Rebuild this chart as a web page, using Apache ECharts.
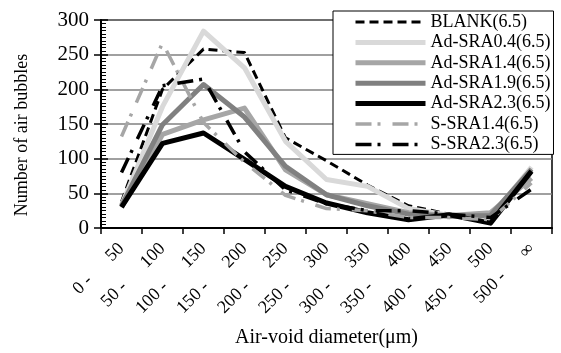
<!DOCTYPE html>
<html>
<head>
<meta charset="utf-8">
<script src="https://cdn.jsdelivr.net/npm/echarts@6/dist/echarts.min.js"></script>
<style>
  html, body { margin: 0; padding: 0; background: #fff; }
  #chart { width: 561px; height: 353px; }
</style>
</head>
<body>
<div id="chart"></div>
<script>
// Air-void size classes (µm)
const categories = ['0 -      50', '50 -      100', '100 -      150', '150 -      200', '200 -      250',
                    '250 -      300', '300 -      350', '350 -      400', '400 -      450',
                    '450 -      500', '500 -      ∞'];

// Number of air bubbles per size class
const blank     = [38, 200, 258, 253, 130, 97, 62, 32, 20, 15, 80];
const adSra04   = [33, 175, 284, 231, 125, 70, 60, 28, 18, 15, 88];
const adSra14   = [30, 135, 156, 173, 84, 48, 35, 22, 18, 22, 72];
const adSra19   = [32, 149, 207, 160, 89, 48, 32, 20, 17, 18, 85];
const adSra23   = [30, 122, 137, 99, 60, 36, 22, 12, 19, 7, 82];
const sSra14    = [132, 267, 152, 95, 47, 28, 25, 15, 15, 12, 65];
const sSra23    = [80, 205, 215, 110, 55, 35, 25, 25, 20, 15, 56];

const yTicks = [0, 50, 100, 150, 200, 250, 300];

const FONT = "'Liberation Serif', 'Times New Roman', serif";
const dashDot = [16, 6, 3, 12];

// series name, values, colour, width, dash
const seriesDefs = [
  ['BLANK(6.5)', blank, '#000000', 3, [9, 5]],
  ['Ad-SRA0.4(6.5)', adSra04, '#d9d9d9', 5, 'solid'],
  ['Ad-SRA1.4(6.5)', adSra14, '#a6a6a6', 5, 'solid'],
  ['Ad-SRA1.9(6.5)', adSra19, '#808080', 5, 'solid'],
  ['Ad-SRA2.3(6.5)', adSra23, '#000000', 5, 'solid'],
  ['S-SRA1.4(6.5)', sSra14, '#a6a6a6', 3.5, dashDot],
  ['S-SRA2.3(6.5)', sSra23, '#000000', 3.5, dashDot]
];

const series = seriesDefs.map(([name, data, color, width, type]) => ({
  name, type: 'line', data,
  symbol: 'none',
  lineStyle: { color, width, type, cap: 'butt', join: 'round' },
  itemStyle: { color },
  emphasis: { disabled: true }
}));

const legendData = seriesDefs.map(([name, , color, width, type]) => ({
  name,
  itemStyle: { opacity: 0 },
  lineStyle: { color, width, type, cap: 'butt' }
}));

const chart = echarts.init(document.getElementById('chart'), null, { renderer: 'canvas' });
chart.setOption({
  animation: false,
  backgroundColor: '#fff',
  textStyle: { fontFamily: FONT },
  grid: {
    left: 101, right: 9, top: 20, bottom: 125,
    show: true, borderColor: '#000', borderWidth: 1.5, backgroundColor: 'transparent'
  },
  legend: {
    orient: 'vertical',
    left: 333, top: 11,
    padding: [2, 3, 1, 20],
    itemWidth: 70, itemHeight: 14, itemGap: 2.4,
    backgroundColor: '#fff',
    borderColor: '#000', borderWidth: 1,
    textStyle: { fontFamily: FONT, fontSize: 18, color: '#000' },
    data: legendData
  },
  xAxis: {
    type: 'category',
    data: categories,
    boundaryGap: true,
    name: 'Air-void diameter(μm)',
    nameLocation: 'middle',
    nameGap: 100,
    nameTextStyle: { fontFamily: FONT, fontSize: 20, color: '#000' },
    axisLine: { lineStyle: { color: '#000', width: 2 } },
    axisTick: { show: true, inside: false, length: 6, lineStyle: { color: '#000', width: 1.5 } },
    axisLabel: { rotate: 45, margin: 18, fontFamily: FONT, fontSize: 18, color: '#000', interval: 0 },
    splitLine: { show: false }
  },
  yAxis: [{
    type: 'value',
    min: yTicks[0], max: yTicks[yTicks.length - 1], interval: 50,
    name: 'Number of air bubbles',
    nameLocation: 'middle',
    nameGap: 70,
    nameRotate: 90,
    nameTextStyle: { fontFamily: FONT, fontSize: 18, color: '#000', padding: [0, 22, 0, 0] },
    axisLine: { show: true, lineStyle: { color: '#000', width: 2 } },
    axisTick: { show: true, inside: true, length: 7, lineStyle: { color: '#000', width: 1.5 } },
    minorTick: { show: true, splitNumber: 10, length: 5, lineStyle: { color: '#000', width: 1 } },
    axisLabel: { margin: 12, fontFamily: FONT, fontSize: 21, color: '#000' },
    splitLine: { show: true, lineStyle: { color: '#808080', width: 1.5 } }
  }, {
    // outer half of the major ticks
    type: 'value', position: 'left',
    min: yTicks[0], max: yTicks[yTicks.length - 1], interval: 50,
    axisLine: { show: false },
    axisTick: { show: true, inside: false, length: 7, lineStyle: { color: '#000', width: 1.5 } },
    axisLabel: { show: false },
    splitLine: { show: false }
  }],
  series
});
</script>
</body>
</html>
